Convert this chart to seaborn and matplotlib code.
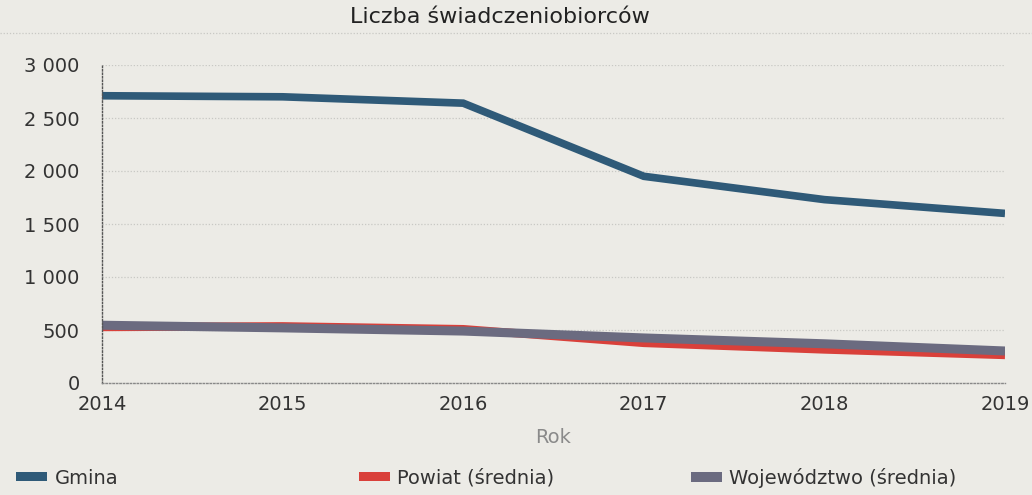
import matplotlib
matplotlib.use("Agg")
import matplotlib.pyplot as plt
from matplotlib.patches import Patch
import seaborn as sns
import pandas as pd

years = [2014, 2015, 2016, 2017, 2018, 2019]
gmina = [2710, 2700, 2640, 1950, 1730, 1600]
powiat = [528, 535, 508, 378, 316, 264]
wojewodztwo = [545, 520, 490, 425, 370, 302]

series_names = ["Gmina", "Powiat (średnia)", "Województwo (średnia)"]
colors = ["#2f5a78", "#d9403a", "#6b6b80"]
yticks = [0, 500, 1000, 1500, 2000, 2500, 3000]
ytick_labels = ["0", "500", "1 000", "1 500", "2 000", "2 500", "3 000"]
title = "Liczba świadczeniobiorców"
xlabel = "Rok"

df = pd.DataFrame({
    "Rok": years * 3,
    "Wartość": gmina + powiat + wojewodztwo,
    "Seria": [series_names[0]] * 6 + [series_names[1]] * 6 + [series_names[2]] * 6,
})

sns.set_theme(style="white")
plt.rcParams["font.family"] = ["DejaVu Sans"]
bg = "#ecebe6"

fig = plt.figure(figsize=(10.32, 4.95), dpi=100, facecolor=bg)
ax = fig.add_axes([102 / 1032, 1 - 383 / 495, (1005 - 102) / 1032, (383 - 65) / 495])
ax.set_facecolor(bg)

widths = [5.5, 6.0, 6.5]
for name, col, lw in zip(series_names, colors, widths):
    sns.lineplot(data=df[df["Seria"] == name], x="Rok", y="Wartość", color=col,
                 linewidth=lw, ax=ax, legend=False, solid_joinstyle="miter",
                 solid_capstyle="butt")

ax.set_xlim(2014, 2019)
ax.set_ylim(0, 3000)
ax.set_xticks(years)
ax.set_xticklabels([str(y) for y in years], fontsize=14, color="#333333")
ax.set_yticks(yticks)
ax.set_yticklabels(ytick_labels, fontsize=14, color="#333333")
ax.tick_params(axis="both", length=0)
ax.tick_params(axis="y", pad=16)
ax.tick_params(axis="x", pad=9)
ax.grid(axis="y", color="#c8c8c4", linestyle=(0, (1, 1.5)), linewidth=0.9)
for s in ["top", "right"]:
    ax.spines[s].set_visible(False)
ax.spines["left"].set_linestyle((0, (1, 1.5)))
ax.spines["left"].set_color("#555555")
ax.spines["left"].set_linewidth(1.0)
ax.spines["bottom"].set_linestyle((0, (1, 1.5)))
ax.spines["bottom"].set_color("#888888")
ax.spines["bottom"].set_linewidth(1.0)
ax.set_xlabel(xlabel, fontsize=14, color="#8a8a8a", labelpad=10)
ax.set_ylabel("")

fig.text(500 / 1032, 1 - 17 / 495, title, ha="center", va="center", fontsize=16, color="#222222")
fig.add_artist(plt.Line2D([0, 1], [1 - 33 / 495, 1 - 33 / 495], color="#c8c8c4",
                          linestyle=(0, (1, 1.5)), linewidth=0.9))

legend_x = [-2 / 1032, 341 / 1032, 673 / 1032]
for name, col, lx in zip(series_names, colors, legend_x):
    fig.legend(handles=[Patch(facecolor=col, edgecolor="none", label=name)],
               loc="center left", bbox_to_anchor=(lx, 1 - 478 / 495), frameon=False,
               fontsize=14, handlelength=1.6, handleheight=0.4, handletextpad=0.4,
               labelcolor="#333333")

fig.savefig("out.png", dpi=100, facecolor=bg)
